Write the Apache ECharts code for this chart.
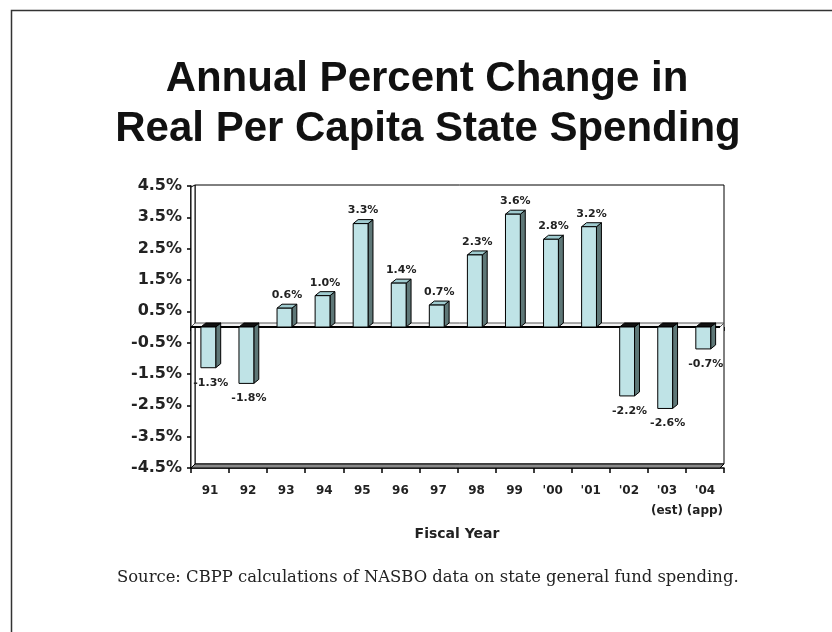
<!DOCTYPE html>
<html>
<head>
<meta charset="utf-8">
<script src="https://cdn.jsdelivr.net/npm/echarts@6/dist/echarts.min.js"></script>
<style>
  html, body { margin: 0; padding: 0; background: #fff; }
  #chart { width: 832px; height: 632px; }
</style>
</head>
<body>
<div id="chart"></div>
<script>
// Fiscal years and annual % change in real per capita state spending
const fiscalYears = ['91', '92', '93', '94', '95', '96', '97', '98', '99',
  "'00", "'01", "'02", "'03\n(est)", "'04\n(app)"];
const pctChange = [-1.3, -1.8, 0.6, 1.0, 3.3, 1.4, 0.7, 2.3, 3.6, 2.8, 3.2, -2.2, -2.6, -0.7];
const yTickValues = [-4.5, -3.5, -2.5, -1.5, -0.5, 0.5, 1.5, 2.5, 3.5, 4.5];

const FRONT = '#bfe3e6';
const SIDE = '#5e7777';
const TOP = '#9fcbcf';
const SANS = '"DejaVu Sans", sans-serif';
const TITLE_FONT = 'bold 42px "Liberation Sans", Arial, sans-serif';

// 3-D walls, floor and the zero plane of the plot box
function renderFrame(params, api) {
  const cs = params.coordSys;
  const L = cs.x, T = cs.y, R = cs.x + cs.width, B = cs.y + cs.height;
  const d = 4;
  const y0 = api.coord([0, 0])[1];
  const line = { stroke: '#000', lineWidth: 1 };
  return {
    type: 'group',
    children: [
      { type: 'rect', shape: { x: L + d, y: T - 1, width: R - L - d, height: B - d - T + 1 },
        style: Object.assign({ fill: '#fff' }, line) },
      { type: 'polygon', shape: { points: [[L, T + 1], [L + d, T - 1], [L + d, B - d], [L, B]] },
        style: Object.assign({ fill: '#fff' }, line) },
      { type: 'polygon', shape: { points: [[L, B], [L + d, B - d], [R, B - d], [R - d, B]] },
        style: Object.assign({ fill: '#8a8a8a' }, line) },
      { type: 'polygon', shape: { points: [[L, y0], [L + d, y0 - d], [R, y0 - d], [R - d, y0]] },
        style: { fill: '#f2f2f2', stroke: '#555', lineWidth: 1 } },
      { type: 'line', shape: { x1: L, y1: y0, x2: R - d, y2: y0 },
        style: { stroke: '#000', lineWidth: 2 } }
    ]
  };
}

// One extruded bar with its value label
function renderBar(params, api) {
  const i = api.value(0);
  const v = api.value(1);
  const pHi = api.coord([i, Math.max(v, 0)]);
  const pLo = api.coord([i, Math.min(v, 0)]);
  const band = api.size([1, 0])[0];
  const cx = pHi[0];
  const x0 = cx - band * 0.24;
  const x1 = x0 + band * 0.39;
  const dx = band * 0.13, dy = 4;
  const yT = pHi[1], yB = pLo[1];
  const edge = { stroke: '#000', lineWidth: 1 };
  const lx = (x0 + x1 + dx) / 2;
  const ly = v >= 0 ? yT - 13 : yB + 15;
  return {
    type: 'group',
    children: [
      { type: 'polygon', shape: { points: [[x1, yT], [x1 + dx, yT - dy], [x1 + dx, yB - dy], [x1, yB]] },
        style: Object.assign({ fill: SIDE }, edge) },
      { type: 'polygon', shape: { points: [[x0, yT], [x0 + dx, yT - dy], [x1 + dx, yT - dy], [x1, yT]] },
        style: Object.assign({ fill: v >= 0 ? TOP : '#111' }, edge) },
      { type: 'rect', shape: { x: x0, y: yT, width: x1 - x0, height: yB - yT },
        style: Object.assign({ fill: FRONT }, edge) },
      { type: 'text', style: { text: v.toFixed(1) + '%', x: lx, y: ly, align: 'center',
        verticalAlign: 'middle', font: 'bold 11px ' + SANS, fill: '#222' } }
    ]
  };
}

const chart = echarts.init(document.getElementById('chart'), null, { renderer: 'canvas' });
chart.setOption({
  backgroundColor: '#fff',
  animation: false,
  graphic: [
    { type: 'rect', left: 9, top: 8, shape: { width: 900, height: 700 },
      style: { fill: 'none', stroke: '#333', lineWidth: 1.5 }, z: -10, silent: true },
    { type: 'text', x: 427, y: 79,
      style: { text: 'Annual Percent Change in', font: TITLE_FONT, fill: '#111',
        align: 'center', verticalAlign: 'middle' } },
    { type: 'text', x: 428, y: 129,
      style: { text: 'Real Per Capita State Spending', font: TITLE_FONT, fill: '#111',
        align: 'center', verticalAlign: 'middle' } },
    { type: 'text', x: 457, y: 534,
      style: { text: 'Fiscal Year', font: 'bold 14px ' + SANS, fill: '#222',
        align: 'center', verticalAlign: 'middle' } },
    { type: 'text', x: 117, y: 578,
      style: { text: 'Source: CBPP calculations of NASBO data on state general fund spending.',
        font: '16.4px "DejaVu Serif", serif', fill: '#222', align: 'left', verticalAlign: 'middle' } }
  ],
  grid: { left: 191, top: 186, right: 108, bottom: 164 },
  xAxis: [
    {
      type: 'category',
      data: fiscalYears,
      boundaryGap: true,
      axisLine: { onZero: false, lineStyle: { color: '#000', width: 1.5 } },
      axisTick: { show: true, length: 5, lineStyle: { color: '#000', width: 1.5 } },
      axisLabel: { color: '#222', fontFamily: SANS, fontWeight: 'bold', fontSize: 12,
        margin: 13, lineHeight: 20, interval: 0 },
      splitLine: { show: false }
    },
    {
      type: 'category',
      data: fiscalYears,
      position: 'top',
      boundaryGap: true,
      axisLine: { onZero: true, show: false },
      axisTick: { show: true, inside: true, length: 4, lineStyle: { color: '#000', width: 1.5 } },
      axisLabel: { show: false },
      splitLine: { show: false }
    }
  ],
  yAxis: {
    type: 'value',
    min: -4.5,
    max: 4.5,
    axisLine: { show: true, lineStyle: { color: '#000', width: 1.5 } },
    axisTick: { show: true, length: 4, customValues: yTickValues, lineStyle: { color: '#000', width: 1.5 } },
    axisLabel: { customValues: yTickValues, color: '#222', fontFamily: SANS, fontWeight: 'bold',
      fontSize: 16, margin: 9, formatter: (v) => v.toFixed(1) + '%' },
    splitLine: { show: false }
  },
  series: [
    {
      type: 'custom',
      name: 'frame',
      renderItem: renderFrame,
      data: [[0, 0]],
      z: 1,
      silent: true
    },
    {
      type: 'custom',
      name: 'Annual % change',
      renderItem: renderBar,
      encode: { x: 0, y: 1 },
      data: pctChange.map((v, i) => [i, v]),
      z: 3
    }
  ]
});
</script>
</body>
</html>
